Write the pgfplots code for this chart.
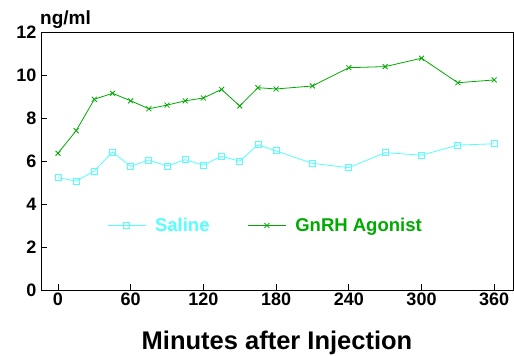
\documentclass[border=0pt]{standalone}
\usepackage{fontspec}
\setmainfont{Liberation Sans}
\usepackage{pgfplots}
\pgfplotsset{compat=1.18}
\definecolor{salc}{RGB}{85,255,255}
\definecolor{gnc}{RGB}{0,170,0}
\begin{document}
\begin{tikzpicture}
\useasboundingbox (-41bp,-66bp) rectangle (473bp,290bp);
\begin{axis}[
  name=ax,
  scale only axis,
  width=472bp, height=258bp,
  xmin=-14, xmax=375.5, ymin=0, ymax=12,
  xtick={0,60,...,360}, ytick={0,2,...,12},
  tick pos=left, tick align=inside,
  major tick length=6bp,
  axis line style={line width=0.9bp},
  tick style={line width=0.9bp, black},
  /pgf/number format/assume math mode=true,
  ticklabel style={font=\fontsize{18bp}{20bp}\selectfont\bfseries},
  xticklabel style={yshift=1bp},
  yticklabel style={xshift=-1bp},
  xlabel={Minutes after Injection},
  xlabel style={font=\fontsize{25.5bp}{28bp}\selectfont\bfseries, yshift=-19bp},
  legend columns=2,
  legend style={draw=none, fill=none, at={(axis cs:40.5,3)}, anchor=west,
    inner sep=0pt, font=\fontsize{18.5bp}{21bp}\selectfont\bfseries,
    /tikz/every odd column/.append style={column sep=7bp},
    /tikz/every even column/.append style={column sep=36bp}},
  legend image code/.code={\draw[mark repeat=2,mark phase=2,#1] plot coordinates {(0bp,0bp)(19bp,0bp)(38bp,0bp)};},
]
\addplot[salc, line width=0.8bp, mark=square, mark size=3bp, mark options={line width=0.8bp}] coordinates {
(0,5.22)(15,5.07)(30,5.53)(45,6.42)(60,5.75)(75,6.05)(90,5.77)(105,6.06)(120,5.81)(135,6.22)(150,5.99)(165,6.76)(180,6.47)(210,5.89)(240,5.69)(270,6.39)(300,6.27)(330,6.74)(360,6.80)};
\addlegendentry[text=salc]{Saline}
\addplot[gnc, line width=0.8bp, mark=x, mark size=3.5bp, mark options={line width=0.8bp}] coordinates {
(0,6.36)(15,7.41)(30,8.87)(45,9.15)(60,8.80)(75,8.43)(90,8.60)(105,8.80)(120,8.93)(135,9.33)(150,8.56)(165,9.41)(180,9.35)(210,9.49)(240,10.34)(270,10.39)(300,10.78)(330,9.64)(360,9.77)};
\addlegendentry[text=gnc]{GnRH Agonist}
\end{axis}
\node[anchor=base west, font=\fontsize{19bp}{21bp}\selectfont\bfseries, inner sep=0pt] at ([xshift=-1bp,yshift=7bp]ax.north west) {ng/ml};
\end{tikzpicture}
\end{document}
